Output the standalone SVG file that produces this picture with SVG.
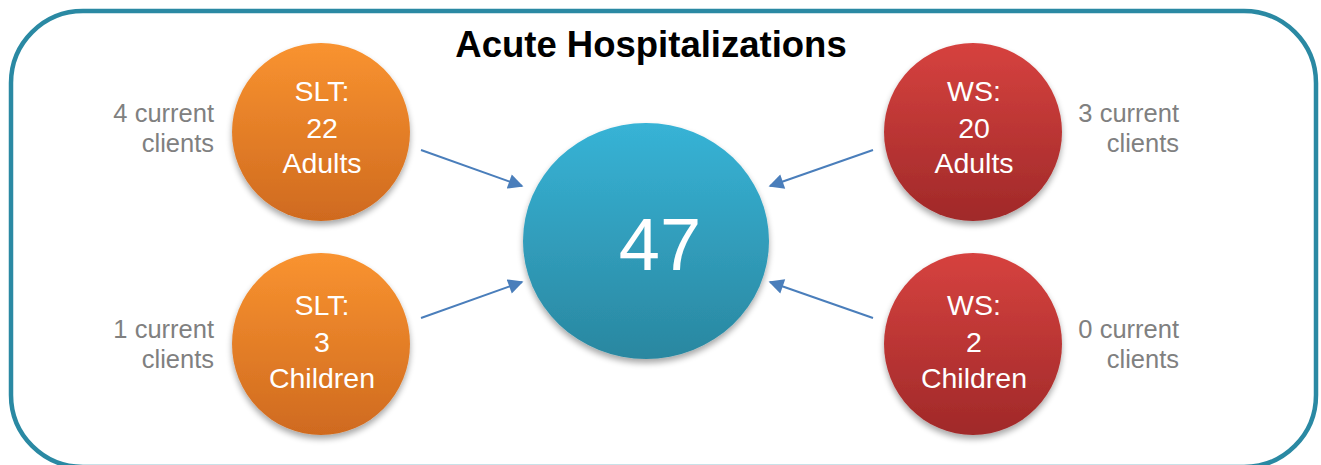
<svg xmlns="http://www.w3.org/2000/svg" width="1321" height="465" viewBox="0 0 1321 465">
  <style>
    .frame { fill: #ffffff; stroke: #2a89a3; stroke-width: 4.5; }
    .title { font-family: "Liberation Sans", Arial, sans-serif; font-size: 36.5px; font-weight: bold; fill: #000000; text-anchor: middle; }
    .node-text { font-family: "Liberation Sans", Arial, sans-serif; font-size: 28.5px; fill: #ffffff; text-anchor: middle; }
    .big { font-family: "Liberation Sans", Arial, sans-serif; font-size: 74px; fill: #ffffff; text-anchor: middle; }
    .label { font-family: "Liberation Sans", Arial, sans-serif; font-size: 25.5px; fill: #808080; }
    .conn { stroke: #4a7ebb; stroke-width: 2; fill: none; marker-end: url(#arrow); }
  </style>
  <defs>
    <linearGradient id="gOrange" x1="0" y1="0" x2="0" y2="1">
      <stop offset="0" stop-color="#f99330"/>
      <stop offset="1" stop-color="#cf6a1f"/>
    </linearGradient>
    <linearGradient id="gRed" x1="0" y1="0" x2="0" y2="1">
      <stop offset="0" stop-color="#d6423f"/>
      <stop offset="1" stop-color="#a02929"/>
    </linearGradient>
    <linearGradient id="gBlue" x1="0" y1="0" x2="0" y2="1">
      <stop offset="0" stop-color="#37b3d6"/>
      <stop offset="1" stop-color="#2a87a0"/>
    </linearGradient>
    <filter id="shadow" x="-20%" y="-20%" width="140%" height="150%">
      <feGaussianBlur in="SourceAlpha" stdDeviation="3"/>
      <feOffset dx="0" dy="4" result="b"/>
      <feComponentTransfer><feFuncA type="linear" slope="0.35"/></feComponentTransfer>
      <feMerge><feMergeNode/><feMergeNode in="SourceGraphic"/></feMerge>
    </filter>
    <marker id="arrow" viewBox="0 0 10 10" refX="9" refY="5" markerWidth="8" markerHeight="7.5" markerUnits="strokeWidth" orient="auto">
      <path d="M0,0 L10,5 L0,10 z" fill="#4a7ebb"/>
    </marker>
  </defs>

  <rect class="frame" x="11" y="11" width="1305" height="456" rx="72" ry="72"/>

  <text class="title" x="651" y="57">Acute Hospitalizations</text>

  <g id="connectors">
    <line class="conn" x1="421" y1="150" x2="522" y2="186"/>
    <line class="conn" x1="421" y1="318" x2="522" y2="282"/>
    <line class="conn" x1="873" y1="150" x2="770" y2="186"/>
    <line class="conn" x1="873" y1="318" x2="770" y2="282"/>
  </g>

  <g id="total">
    <ellipse cx="646" cy="241" rx="123" ry="118" fill="url(#gBlue)" filter="url(#shadow)"/>
    <text class="big" x="660" y="270">47</text>
  </g>

  <g id="slt-adults">
    <ellipse cx="321" cy="132" rx="89" ry="89" fill="url(#gOrange)" filter="url(#shadow)"/>
    <text class="node-text" x="322" y="101">SLT:</text>
    <text class="node-text" x="322" y="138">22</text>
    <text class="node-text" x="322" y="173">Adults</text>
  </g>

  <g id="slt-children">
    <ellipse cx="321" cy="344" rx="89" ry="91" fill="url(#gOrange)" filter="url(#shadow)"/>
    <text class="node-text" x="322" y="315">SLT:</text>
    <text class="node-text" x="322" y="352">3</text>
    <text class="node-text" x="322" y="388">Children</text>
  </g>

  <g id="ws-adults">
    <ellipse cx="973" cy="132" rx="89" ry="89" fill="url(#gRed)" filter="url(#shadow)"/>
    <text class="node-text" x="974" y="101">WS:</text>
    <text class="node-text" x="974" y="138">20</text>
    <text class="node-text" x="974" y="173">Adults</text>
  </g>

  <g id="ws-children">
    <ellipse cx="973" cy="344" rx="89" ry="91" fill="url(#gRed)" filter="url(#shadow)"/>
    <text class="node-text" x="974" y="315">WS:</text>
    <text class="node-text" x="974" y="352">2</text>
    <text class="node-text" x="974" y="388">Children</text>
  </g>

  <g id="labels">
    <text class="label" x="214" y="122" text-anchor="end">4 current</text>
    <text class="label" x="214" y="152" text-anchor="end">clients</text>
    <text class="label" x="214" y="338" text-anchor="end">1 current</text>
    <text class="label" x="214" y="368" text-anchor="end">clients</text>
    <text class="label" x="1179" y="122" text-anchor="end">3 current</text>
    <text class="label" x="1179" y="152" text-anchor="end">clients</text>
    <text class="label" x="1179" y="338" text-anchor="end">0 current</text>
    <text class="label" x="1179" y="368" text-anchor="end">clients</text>
  </g>
</svg>
